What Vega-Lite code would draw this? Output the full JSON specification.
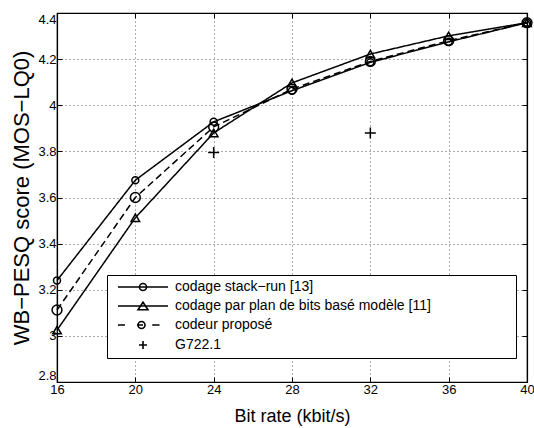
{
  "$schema": "https://vega.github.io/schema/vega-lite/v6.json",
  "width": 470,
  "height": 369,
  "autosize": {"type": "none"},
  "padding": {"left": 57, "top": 13, "right": 7, "bottom": 46},
  "background": "white",
  "config": {
    "font": "Liberation Sans",
    "view": {"stroke": "black", "strokeWidth": 1.2},
    "axis": {
      "domainColor": "black",
      "domainWidth": 1.2,
      "tickColor": "black",
      "tickSize": -5,
      "tickWidth": 1,
      "labelColor": "black",
      "labelFont": "Liberation Sans",
      "labelFontSize": 13,
      "titleColor": "black",
      "titleFont": "Liberation Sans",
      "titleFontWeight": "normal",
      "gridColor": "#333333",
      "gridDash": [1, 3],
      "gridWidth": 1,
      "gridOpacity": 0.8
    }
  },
  "data": {
    "values": [
      {"rate": 16, "score": 3.24, "series": "codage stack−run [13]"},
      {"rate": 20, "score": 3.675, "series": "codage stack−run [13]"},
      {"rate": 24, "score": 3.928, "series": "codage stack−run [13]"},
      {"rate": 28, "score": 4.063, "series": "codage stack−run [13]"},
      {"rate": 32, "score": 4.186, "series": "codage stack−run [13]"},
      {"rate": 36, "score": 4.275, "series": "codage stack−run [13]"},
      {"rate": 40, "score": 4.358, "series": "codage stack−run [13]"},
      {"rate": 16, "score": 3.025, "series": "codage par plan de bits basé modèle [11]"},
      {"rate": 20, "score": 3.512, "series": "codage par plan de bits basé modèle [11]"},
      {"rate": 24, "score": 3.88, "series": "codage par plan de bits basé modèle [11]"},
      {"rate": 28, "score": 4.097, "series": "codage par plan de bits basé modèle [11]"},
      {"rate": 32, "score": 4.222, "series": "codage par plan de bits basé modèle [11]"},
      {"rate": 36, "score": 4.301, "series": "codage par plan de bits basé modèle [11]"},
      {"rate": 40, "score": 4.358, "series": "codage par plan de bits basé modèle [11]"},
      {"rate": 16, "score": 3.112, "series": "codeur proposé"},
      {"rate": 20, "score": 3.6, "series": "codeur proposé"},
      {"rate": 24, "score": 3.906, "series": "codeur proposé"},
      {"rate": 28, "score": 4.07, "series": "codeur proposé"},
      {"rate": 32, "score": 4.19, "series": "codeur proposé"},
      {"rate": 36, "score": 4.28, "series": "codeur proposé"},
      {"rate": 40, "score": 4.358, "series": "codeur proposé"},
      {"rate": 24, "score": 3.795, "series": "G722.1"},
      {"rate": 32, "score": 3.88, "series": "G722.1"}
    ]
  },
  "layer": [
    {
      "transform": [{"filter": "datum.series !== 'G722.1'"}],
      "mark": {"type": "line", "color": "black", "strokeWidth": 1.5},
      "encoding": {
        "x": {
          "field": "rate", "type": "quantitative",
          "scale": {"domain": [16, 40], "nice": false},
          "axis": {"orient": "bottom", "values": [16, 20, 24, 28, 32, 36, 40], "title": "Bit rate (kbit/s)", "titleFontSize": 18, "titlePadding": 11, "labelPadding": 6, "labelFlush": false, "grid": true}
        },
        "y": {
          "field": "score", "type": "quantitative",
          "scale": {"domain": [2.8, 4.4], "nice": false, "zero": false},
          "axis": {"orient": "left", "values": [2.8, 3, 3.2, 3.4, 3.6, 3.8, 4, 4.2, 4.4], "format": "~g", "title": "WB−PESQ score (MOS−LQ0)", "titleFontSize": 22, "labelPadding": 6, "labelFlush": true, "grid": true}
        },
        "detail": {"field": "series", "type": "nominal"},
        "strokeDash": {
          "field": "series", "type": "nominal",
          "scale": {"domain": ["codage stack−run [13]", "codage par plan de bits basé modèle [11]", "codeur proposé"], "range": [[1, 0], [1, 0], [7, 4]]},
          "legend": null
        }
      }
    },
    {
      "mark": {"type": "point", "filled": false, "color": "black", "strokeWidth": 1.5, "opacity": 1},
      "encoding": {
        "x": {"field": "rate", "type": "quantitative", "axis": {"orient": "top", "values": [16, 20, 24, 28, 32, 36, 40], "labels": false, "title": null, "grid": false}},
        "y": {"field": "score", "type": "quantitative", "axis": {"orient": "right", "values": [2.8, 3, 3.2, 3.4, 3.6, 3.8, 4, 4.2, 4.4], "labels": false, "title": null, "grid": false}},
        "shape": {
          "field": "series", "type": "nominal",
          "scale": {"domain": ["codage stack−run [13]", "codage par plan de bits basé modèle [11]", "codeur proposé", "G722.1"], "range": ["circle", "triangle-up", "circle", "M-1,0H1M0,-1V1"]},
          "legend": null
        },
        "size": {
          "field": "series", "type": "nominal",
          "scale": {"domain": ["codage stack−run [13]", "codage par plan de bits basé modèle [11]", "codeur proposé", "G722.1"], "range": [49, 121, 49, 64]},
          "legend": null
        }
      }
    },
    {
      "transform": [{"filter": "false"}],
      "mark": {"type": "point", "filled": false, "color": "black", "strokeWidth": 1.5, "size": 100},
      "encoding": {
        "shape": {
          "field": "series", "type": "nominal",
          "scale": {
            "domain": ["codage stack−run [13]", "codage par plan de bits basé modèle [11]", "codeur proposé", "G722.1"],
            "range": [
              "M-5,0H5M0.7,0A0.7,0.7,0,1,1,-0.7,0A0.7,0.7,0,1,1,0.7,0M72.8,0",
              "M-5,0H5M0,-0.75L-1,0.75L1,0.75Z",
              "M-5,0H-3.6M-1.2,0H0M1.84,0H3.3M0.4,0A0.7,0.7,0,1,1,-1,0A0.7,0.7,0,1,1,0.4,0",
              "M-0.8,0H0.8M0,-0.8V0.8"
            ]
          },
          "legend": {
            "orient": "none", "legendX": 50, "legendY": 262, "title": null,
            "padding": 5, "rowPadding": 5,
            "strokeColor": "black", "fillColor": "white",
            "symbolSize": 100, "symbolStrokeWidth": 1.6, "symbolStrokeColor": "black", "symbolFillColor": "transparent", "symbolOpacity": 1,
            "symbolOffset": 24, "labelOffset": 25,
            "labelFont": "Liberation Sans", "labelFontSize": 14, "labelLimit": 400, "labelColor": "black"
          }
        }
      }
    }
  ],
  "resolve": {
    "scale": {"shape": "independent", "size": "independent"},
    "axis": {"x": "independent", "y": "independent"}
  }
}
